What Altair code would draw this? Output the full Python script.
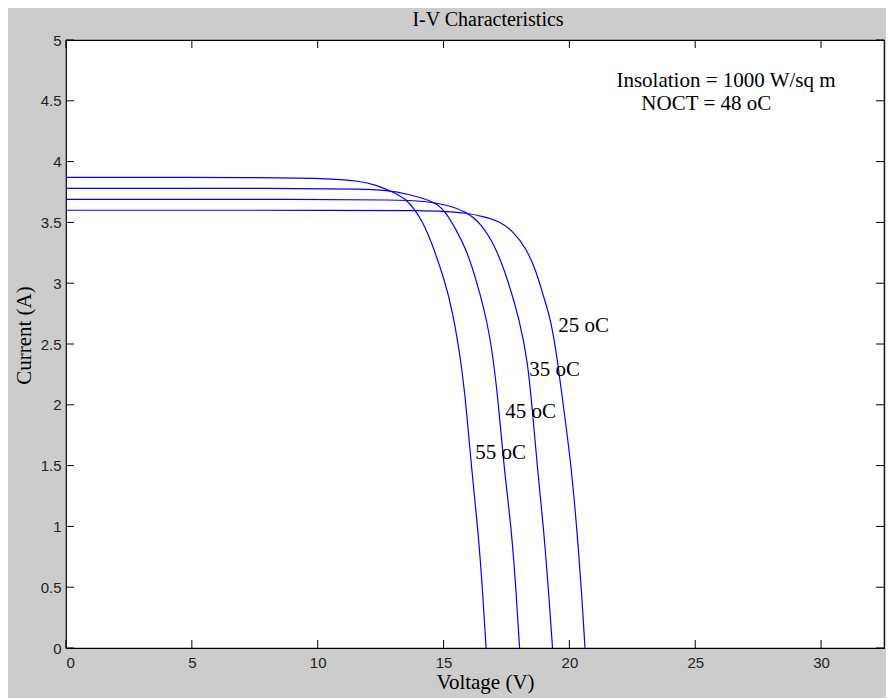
import altair as alt
import pandas as pd

# ---- data ----
temps = ["25 oC", "35 oC", "45 oC", "55 oC"]

V25 = [0, 12.0, 14.05, 15.1, 15.9, 16.56, 17.22, 17.75, 18.28, 18.68, 18.94, 19.27, 19.54, 19.8, 20.07, 20.29, 20.49, 20.62]
I25 = [3.60, 3.60, 3.598, 3.59, 3.578, 3.55, 3.51, 3.43, 3.29, 3.10, 2.91, 2.70, 2.35, 1.93, 1.50, 1.00, 0.45, 0.0]

V35 = [0, 10.0, 12.99, 14.31, 15.1, 15.9, 16.5, 17.09, 17.55, 18.02, 18.35, 18.54, 18.72, 18.97, 19.18, 19.33]
I35 = [3.69, 3.69, 3.685, 3.675, 3.645, 3.59, 3.49, 3.29, 3.03, 2.70, 2.35, 1.93, 1.50, 1.00, 0.45, 0.0]

V45 = [0, 9.0, 11.8, 12.72, 13.65, 14.31, 14.77, 15.1, 15.5, 15.9, 16.3, 16.83, 17.16, 17.39, 17.69, 17.89, 18.02]
I45 = [3.78, 3.78, 3.775, 3.765, 3.73, 3.69, 3.65, 3.58, 3.44, 3.28, 3.03, 2.62, 2.07, 1.50, 1.00, 0.45, 0.0]

V55 = [0, 8.0, 10.6, 11.67, 12.3, 12.99, 13.52, 13.84, 14.18, 14.5, 15.04, 15.37, 15.7, 15.9, 16.1, 16.36, 16.56, 16.69]
I55 = [3.87, 3.87, 3.86, 3.84, 3.81, 3.75, 3.69, 3.61, 3.50, 3.35, 3.03, 2.76, 2.35, 1.99, 1.50, 1.00, 0.45, 0.0]

# label anchors (data coordinates)
label_V = [19.56, 18.41, 17.45, 16.26]
label_I = [2.645, 2.29, 1.94, 1.60]

note_text = ["Insolation = 1000 W/sq m", "NOCT = 48 oC"]
note_V = [21.87, 22.86]
note_I = [4.615, 4.428]   # text baselines

x_ticks = [0, 5, 10, 15, 20, 25, 30]
y_ticks = [0, 0.5, 1, 1.5, 2, 2.5, 3, 3.5, 4, 4.5, 5]

X_DOMAIN = [0, 32.5]
Y_DOMAIN = [0, 5]
W, H = 818, 608

# ---- tables ----
rows = []
for t, vs, is_ in zip(temps, [V25, V35, V45, V55], [I25, I35, I45, I55]):
    for v, i in zip(vs, is_):
        rows.append({"T": t, "V": v, "I": i})
df = pd.DataFrame(rows)
labels_df = pd.DataFrame({"T": temps, "V": label_V, "I": label_I})
notes_df = pd.DataFrame({"txt": note_text, "V": note_V, "I": note_I})
xt_df = pd.DataFrame({"V": x_ticks})
yt_df = pd.DataFrame({"I": y_ticks})

xs = alt.Scale(domain=X_DOMAIN, nice=False, zero=False)
ys = alt.Scale(domain=Y_DOMAIN, nice=False, zero=False)

label_font = "Liberation Sans"
serif = "Liberation Serif"

x_axis = alt.Axis(values=x_ticks, format="~g", ticks=False, domain=False, grid=False,
                  labelFont=label_font, labelFontSize=15, labelColor="#222222", labelPadding=7,
                  title="Voltage (V)", titleFont=serif, titleFontSize=21, titleFontWeight="normal",
                  titleColor="black", titleX=419, titleY=40, titleBaseline="alphabetic",
                  titleAnchor="middle")
y_axis = alt.Axis(values=y_ticks, format="~g", ticks=False, domain=False, grid=False,
                  labelFont=label_font, labelFontSize=15, labelColor="#222222", labelPadding=5,
                  title="Current (A)", titleFont=serif, titleFontSize=21, titleFontWeight="normal",
                  titleColor="black", titleX=-36, titleY=295, titleBaseline="alphabetic",
                  titleAnchor="middle")

X = alt.X("V:Q", scale=xs, axis=x_axis)
Y = alt.Y("I:Q", scale=ys, axis=y_axis)

lines = alt.Chart(df).mark_line(color="#0000ff", strokeWidth=1.2, interpolate="basis").encode(
    x=X, y=Y, detail="T:N",
)

curve_labels = alt.Chart(labels_df).mark_text(align="left", baseline="middle", font=serif,
                                              fontSize=21, color="black").encode(
    x=X, y=Y, text="T:N",
)

notes = alt.Chart(notes_df).mark_text(align="left", baseline="alphabetic", font=serif,
                                      fontSize=21, color="black").encode(
    x=X, y=Y, text="txt:N",
)

tick_len = 8
bottom_ticks = alt.Chart(xt_df).mark_rule(color="black", strokeWidth=1).encode(
    x=X, y=alt.value(H), y2=alt.value(H - tick_len))
top_ticks = alt.Chart(xt_df).mark_rule(color="black", strokeWidth=1).encode(
    x=X, y=alt.value(0), y2=alt.value(tick_len))
left_ticks = alt.Chart(yt_df).mark_rule(color="black", strokeWidth=1).encode(
    y=Y, x=alt.value(0), x2=alt.value(tick_len))
right_ticks = alt.Chart(yt_df).mark_rule(color="black", strokeWidth=1).encode(
    y=Y, x=alt.value(W), x2=alt.value(W - tick_len))

chart = alt.layer(lines, curve_labels, notes, bottom_ticks, top_ticks, left_ticks, right_ticks).properties(
    width=W, height=H,
    title=alt.TitleParams("I-V Characteristics", font=serif, fontSize=20, fontWeight="normal",
                          color="black", anchor="middle", offset=3, dx=13),
    autosize=alt.AutoSizeParams(type="none"),
    padding={"left": 58, "top": 32, "right": 2, "bottom": 50},
    background="#cccccc",
).configure_view(fill="white", stroke="black", strokeWidth=1.2)

chart.save("out.html", embed_options={"renderer": "svg", "actions": False})
